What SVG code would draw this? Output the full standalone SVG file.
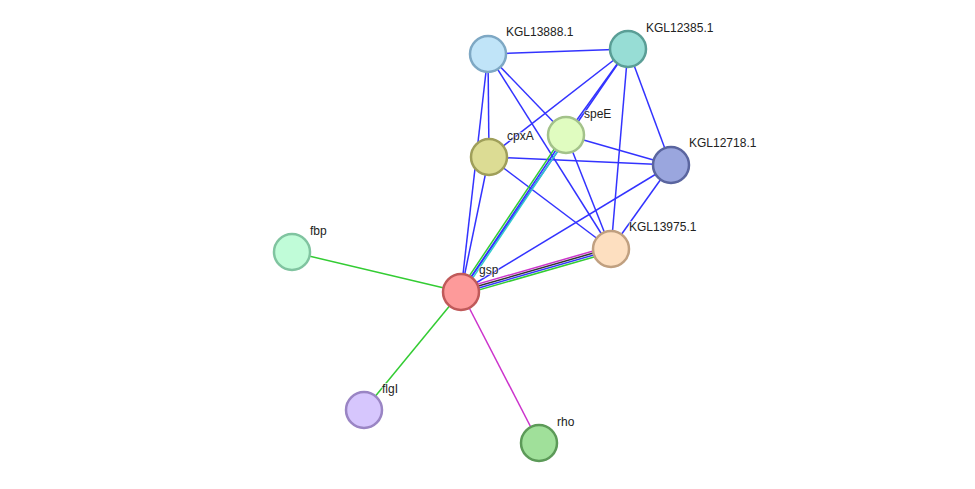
<svg xmlns="http://www.w3.org/2000/svg" width="975" height="489" viewBox="0 0 975 489">
<style>
.e{stroke-width:1.5;fill:none}
.b{stroke:#3333ff}
.g{stroke:#33cc33}
.m{stroke:#cc33cc}
.k{stroke:#333333}
.c{stroke:#33cccc}
.n circle{stroke-width:2.5}
text{font-family:"Liberation Sans",Arial,sans-serif;font-size:12px;fill:#222;paint-order:stroke;stroke:#fff;stroke-width:2px;stroke-opacity:0.6}
</style>
<rect width="975" height="489" fill="#fff"/>
<g id="edges">
<line class="e b" x1="488" y1="54" x2="628" y2="49"/>
<line class="e b" x1="488" y1="54" x2="489" y2="157"/>
<line class="e b" x1="488" y1="54" x2="461" y2="292"/>
<line class="e b" x1="488" y1="54" x2="566" y2="135"/>
<line class="e b" x1="488" y1="54" x2="611" y2="249"/>
<line class="e b" x1="628" y1="49" x2="489" y2="157"/>
<line class="e b" x1="628" y1="49" x2="566" y2="135"/>
<line class="e b" x1="628" y1="49" x2="461" y2="292"/>
<line class="e b" x1="628" y1="49" x2="611" y2="249"/>
<line class="e b" x1="628" y1="49" x2="671" y2="165"/>
<line class="e b" x1="566" y1="135" x2="671" y2="165"/>
<line class="e b" x1="566" y1="135" x2="611" y2="249"/>
<line class="e b" x1="489" y1="157" x2="671" y2="165"/>
<line class="e b" x1="489" y1="157" x2="611" y2="249"/>
<line class="e b" x1="489" y1="157" x2="461" y2="292"/>
<line class="e b" x1="671" y1="165" x2="611" y2="249"/>
<line class="e b" x1="671" y1="165" x2="461" y2="292"/>
<line class="e g" x1="459.34" y1="290.89" x2="564.34" y2="133.89"/>
<line class="e b" x1="461" y1="292" x2="566" y2="135"/>
<line class="e c" x1="462.66" y1="293.11" x2="567.66" y2="136.11"/>
<line class="e m" x1="460.17" y1="289.12" x2="610.17" y2="246.12"/>
<line class="e k" x1="460.72" y1="291.04" x2="610.72" y2="248.04"/>
<line class="e b" x1="461.28" y1="292.96" x2="611.28" y2="249.96"/>
<line class="e g" x1="461.83" y1="294.88" x2="611.83" y2="251.88"/>
<line class="e g" x1="461" y1="292" x2="292" y2="252"/>
<line class="e g" x1="461" y1="292" x2="364" y2="410"/>
<line class="e m" x1="461" y1="292" x2="539" y2="443"/>
</g>
<g id="KGL13888.1" class="n"><circle cx="488" cy="54" r="18" fill="#c0e4f8" stroke="#7ea8c4"/><text x="506" y="36">KGL13888.1</text></g>
<g id="KGL12385.1" class="n"><circle cx="628" cy="49" r="18" fill="#97ddd5" stroke="#5a9e96"/><text x="646" y="32">KGL12385.1</text></g>
<g id="speE" class="n"><circle cx="566" cy="135" r="18" fill="#e0fcc0" stroke="#a3c28a"/><text x="584" y="118">speE</text></g>
<g id="cpxA" class="n"><circle cx="489" cy="157" r="18" fill="#dcdc94" stroke="#9f9f5a"/><text x="507" y="140">cpxA</text></g>
<g id="KGL12718.1" class="n"><circle cx="671" cy="165" r="18" fill="#9aa6de" stroke="#5a659f"/><text x="689" y="147">KGL12718.1</text></g>
<g id="KGL13975.1" class="n"><circle cx="611" cy="249" r="18" fill="#fddfc0" stroke="#c0a080"/><text x="629" y="231">KGL13975.1</text></g>
<g id="fbp" class="n"><circle cx="292" cy="252" r="18" fill="#c0fcd8" stroke="#80c4a0"/><text x="310" y="235">fbp</text></g>
<g id="gsp" class="n"><circle cx="461" cy="292" r="18" fill="#fd9a9a" stroke="#c05a5a"/><text x="479" y="274">gsp</text></g>
<g id="flgI" class="n"><circle cx="364" cy="410" r="18" fill="#d6c6fd" stroke="#9a85c4"/><text x="382" y="393">flgI</text></g>
<g id="rho" class="n"><circle cx="539" cy="443" r="18" fill="#a0e09a" stroke="#5c9a58"/><text x="557" y="426">rho</text></g>
</svg>
